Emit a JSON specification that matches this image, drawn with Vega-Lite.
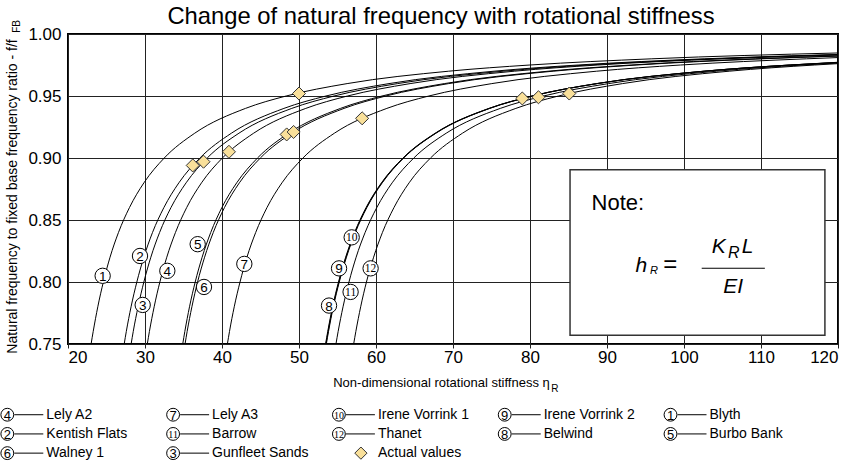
{
  "$schema": "https://vega.github.io/schema/vega-lite/v6.json",
  "width": 770,
  "height": 310,
  "autosize": "none",
  "padding": {"left": 68, "top": 34, "right": 16, "bottom": 119},
  "background": "white",
  "config": {
    "font": "Liberation Sans",
    "view": {"stroke": "black", "strokeWidth": 2},
    "text": {"font": "Liberation Sans", "color": "black"}
  },
  "title": {
    "text": "Change of natural frequency with rotational stiffness",
    "fontSize": 23.8,
    "fontWeight": "normal",
    "color": "black",
    "font": "Liberation Sans",
    "frame": "group",
    "anchor": "middle",
    "dx": -12,
    "dy": 15,
    "offset": 6
  },
  "datasets": {
    "curves": [
      {"site": "Blyth", "eta": 23.00, "ratio": 0.75}, {"site": "Blyth", "eta": 23.27, "ratio": 0.76}, {"site": "Blyth", "eta": 23.87, "ratio": 0.78}, {"site": "Blyth", "eta": 24.59, "ratio": 0.80}, {"site": "Blyth", "eta": 25.46, "ratio": 0.82}, {"site": "Blyth", "eta": 26.56, "ratio": 0.84}, {"site": "Blyth", "eta": 27.98, "ratio": 0.86}, {"site": "Blyth", "eta": 29.86, "ratio": 0.88}, {"site": "Blyth", "eta": 32.50, "ratio": 0.90}, {"site": "Blyth", "eta": 36.46, "ratio": 0.92}, {"site": "Blyth", "eta": 43.05, "ratio": 0.94}, {"site": "Blyth", "eta": 48.33, "ratio": 0.95}, {"site": "Blyth", "eta": 56.25, "ratio": 0.96}, {"site": "Blyth", "eta": 69.44, "ratio": 0.97}, {"site": "Blyth", "eta": 79.99, "ratio": 0.975}, {"site": "Blyth", "eta": 95.82, "ratio": 0.98}, {"site": "Blyth", "eta": 120, "ratio": 0.9847},
      {"site": "Kentish Flats", "eta": 27.30, "ratio": 0.75}, {"site": "Kentish Flats", "eta": 27.57, "ratio": 0.76}, {"site": "Kentish Flats", "eta": 28.19, "ratio": 0.78}, {"site": "Kentish Flats", "eta": 28.94, "ratio": 0.80}, {"site": "Kentish Flats", "eta": 29.85, "ratio": 0.82}, {"site": "Kentish Flats", "eta": 30.98, "ratio": 0.84}, {"site": "Kentish Flats", "eta": 32.45, "ratio": 0.86}, {"site": "Kentish Flats", "eta": 34.40, "ratio": 0.88}, {"site": "Kentish Flats", "eta": 37.13, "ratio": 0.90}, {"site": "Kentish Flats", "eta": 41.22, "ratio": 0.92}, {"site": "Kentish Flats", "eta": 48.04, "ratio": 0.94}, {"site": "Kentish Flats", "eta": 53.50, "ratio": 0.95}, {"site": "Kentish Flats", "eta": 61.69, "ratio": 0.96}, {"site": "Kentish Flats", "eta": 75.33, "ratio": 0.97}, {"site": "Kentish Flats", "eta": 86.25, "ratio": 0.975}, {"site": "Kentish Flats", "eta": 102.63, "ratio": 0.98}, {"site": "Kentish Flats", "eta": 120, "ratio": 0.9835},
      {"site": "Gunfleet Sands", "eta": 28.20, "ratio": 0.75}, {"site": "Gunfleet Sands", "eta": 28.47, "ratio": 0.76}, {"site": "Gunfleet Sands", "eta": 29.10, "ratio": 0.78}, {"site": "Gunfleet Sands", "eta": 29.85, "ratio": 0.80}, {"site": "Gunfleet Sands", "eta": 30.76, "ratio": 0.82}, {"site": "Gunfleet Sands", "eta": 31.90, "ratio": 0.84}, {"site": "Gunfleet Sands", "eta": 33.37, "ratio": 0.86}, {"site": "Gunfleet Sands", "eta": 35.34, "ratio": 0.88}, {"site": "Gunfleet Sands", "eta": 38.08, "ratio": 0.90}, {"site": "Gunfleet Sands", "eta": 42.20, "ratio": 0.92}, {"site": "Gunfleet Sands", "eta": 49.06, "ratio": 0.94}, {"site": "Gunfleet Sands", "eta": 54.55, "ratio": 0.95}, {"site": "Gunfleet Sands", "eta": 62.79, "ratio": 0.96}, {"site": "Gunfleet Sands", "eta": 76.51, "ratio": 0.97}, {"site": "Gunfleet Sands", "eta": 87.49, "ratio": 0.975}, {"site": "Gunfleet Sands", "eta": 103.96, "ratio": 0.98}, {"site": "Gunfleet Sands", "eta": 120, "ratio": 0.9833},
      {"site": "Lely A2", "eta": 30.30, "ratio": 0.75}, {"site": "Lely A2", "eta": 30.57, "ratio": 0.76}, {"site": "Lely A2", "eta": 31.19, "ratio": 0.78}, {"site": "Lely A2", "eta": 31.93, "ratio": 0.80}, {"site": "Lely A2", "eta": 32.83, "ratio": 0.82}, {"site": "Lely A2", "eta": 33.96, "ratio": 0.84}, {"site": "Lely A2", "eta": 35.41, "ratio": 0.86}, {"site": "Lely A2", "eta": 37.34, "ratio": 0.88}, {"site": "Lely A2", "eta": 40.05, "ratio": 0.90}, {"site": "Lely A2", "eta": 44.11, "ratio": 0.92}, {"site": "Lely A2", "eta": 50.88, "ratio": 0.94}, {"site": "Lely A2", "eta": 56.30, "ratio": 0.95}, {"site": "Lely A2", "eta": 64.43, "ratio": 0.96}, {"site": "Lely A2", "eta": 77.97, "ratio": 0.97}, {"site": "Lely A2", "eta": 88.80, "ratio": 0.975}, {"site": "Lely A2", "eta": 105.05, "ratio": 0.98}, {"site": "Lely A2", "eta": 120, "ratio": 0.9831},
      {"site": "Burbo Bank", "eta": 34.90, "ratio": 0.75}, {"site": "Burbo Bank", "eta": 35.17, "ratio": 0.76}, {"site": "Burbo Bank", "eta": 35.78, "ratio": 0.78}, {"site": "Burbo Bank", "eta": 36.52, "ratio": 0.80}, {"site": "Burbo Bank", "eta": 37.42, "ratio": 0.82}, {"site": "Burbo Bank", "eta": 38.54, "ratio": 0.84}, {"site": "Burbo Bank", "eta": 39.98, "ratio": 0.86}, {"site": "Burbo Bank", "eta": 41.91, "ratio": 0.88}, {"site": "Burbo Bank", "eta": 44.61, "ratio": 0.90}, {"site": "Burbo Bank", "eta": 48.65, "ratio": 0.92}, {"site": "Burbo Bank", "eta": 55.39, "ratio": 0.94}, {"site": "Burbo Bank", "eta": 60.78, "ratio": 0.95}, {"site": "Burbo Bank", "eta": 68.87, "ratio": 0.96}, {"site": "Burbo Bank", "eta": 82.35, "ratio": 0.97}, {"site": "Burbo Bank", "eta": 93.13, "ratio": 0.975}, {"site": "Burbo Bank", "eta": 109.31, "ratio": 0.98}, {"site": "Burbo Bank", "eta": 120, "ratio": 0.9823},
      {"site": "Walney 1", "eta": 35.20, "ratio": 0.75}, {"site": "Walney 1", "eta": 35.47, "ratio": 0.76}, {"site": "Walney 1", "eta": 36.09, "ratio": 0.78}, {"site": "Walney 1", "eta": 36.83, "ratio": 0.80}, {"site": "Walney 1", "eta": 37.74, "ratio": 0.82}, {"site": "Walney 1", "eta": 38.87, "ratio": 0.84}, {"site": "Walney 1", "eta": 40.32, "ratio": 0.86}, {"site": "Walney 1", "eta": 42.26, "ratio": 0.88}, {"site": "Walney 1", "eta": 44.98, "ratio": 0.90}, {"site": "Walney 1", "eta": 49.06, "ratio": 0.92}, {"site": "Walney 1", "eta": 55.85, "ratio": 0.94}, {"site": "Walney 1", "eta": 61.28, "ratio": 0.95}, {"site": "Walney 1", "eta": 69.43, "ratio": 0.96}, {"site": "Walney 1", "eta": 83.01, "ratio": 0.97}, {"site": "Walney 1", "eta": 93.88, "ratio": 0.975}, {"site": "Walney 1", "eta": 110.18, "ratio": 0.98}, {"site": "Walney 1", "eta": 120, "ratio": 0.9822},
      {"site": "Lely A3", "eta": 40.70, "ratio": 0.75}, {"site": "Lely A3", "eta": 40.97, "ratio": 0.76}, {"site": "Lely A3", "eta": 41.59, "ratio": 0.78}, {"site": "Lely A3", "eta": 42.34, "ratio": 0.80}, {"site": "Lely A3", "eta": 43.24, "ratio": 0.82}, {"site": "Lely A3", "eta": 44.38, "ratio": 0.84}, {"site": "Lely A3", "eta": 45.84, "ratio": 0.86}, {"site": "Lely A3", "eta": 47.79, "ratio": 0.88}, {"site": "Lely A3", "eta": 50.51, "ratio": 0.90}, {"site": "Lely A3", "eta": 54.60, "ratio": 0.92}, {"site": "Lely A3", "eta": 61.41, "ratio": 0.94}, {"site": "Lely A3", "eta": 66.86, "ratio": 0.95}, {"site": "Lely A3", "eta": 75.04, "ratio": 0.96}, {"site": "Lely A3", "eta": 88.66, "ratio": 0.97}, {"site": "Lely A3", "eta": 99.56, "ratio": 0.975}, {"site": "Lely A3", "eta": 115.91, "ratio": 0.98}, {"site": "Lely A3", "eta": 120, "ratio": 0.9810},
      {"site": "Belwind", "eta": 53.45, "ratio": 0.75}, {"site": "Belwind", "eta": 53.73, "ratio": 0.76}, {"site": "Belwind", "eta": 54.36, "ratio": 0.78}, {"site": "Belwind", "eta": 55.13, "ratio": 0.80}, {"site": "Belwind", "eta": 56.06, "ratio": 0.82}, {"site": "Belwind", "eta": 57.22, "ratio": 0.84}, {"site": "Belwind", "eta": 58.71, "ratio": 0.86}, {"site": "Belwind", "eta": 60.71, "ratio": 0.88}, {"site": "Belwind", "eta": 63.50, "ratio": 0.90}, {"site": "Belwind", "eta": 67.69, "ratio": 0.92}, {"site": "Belwind", "eta": 74.67, "ratio": 0.94}, {"site": "Belwind", "eta": 80.25, "ratio": 0.95}, {"site": "Belwind", "eta": 88.63, "ratio": 0.96}, {"site": "Belwind", "eta": 102.58, "ratio": 0.97}, {"site": "Belwind", "eta": 113.75, "ratio": 0.975}, {"site": "Belwind", "eta": 120, "ratio": 0.9772},
      {"site": "Irene Vorrink 2", "eta": 53.50, "ratio": 0.75}, {"site": "Irene Vorrink 2", "eta": 53.78, "ratio": 0.76}, {"site": "Irene Vorrink 2", "eta": 54.41, "ratio": 0.78}, {"site": "Irene Vorrink 2", "eta": 55.18, "ratio": 0.80}, {"site": "Irene Vorrink 2", "eta": 56.11, "ratio": 0.82}, {"site": "Irene Vorrink 2", "eta": 57.27, "ratio": 0.84}, {"site": "Irene Vorrink 2", "eta": 58.76, "ratio": 0.86}, {"site": "Irene Vorrink 2", "eta": 60.76, "ratio": 0.88}, {"site": "Irene Vorrink 2", "eta": 63.55, "ratio": 0.90}, {"site": "Irene Vorrink 2", "eta": 67.74, "ratio": 0.92}, {"site": "Irene Vorrink 2", "eta": 74.72, "ratio": 0.94}, {"site": "Irene Vorrink 2", "eta": 80.30, "ratio": 0.95}, {"site": "Irene Vorrink 2", "eta": 88.68, "ratio": 0.96}, {"site": "Irene Vorrink 2", "eta": 102.63, "ratio": 0.97}, {"site": "Irene Vorrink 2", "eta": 113.80, "ratio": 0.975}, {"site": "Irene Vorrink 2", "eta": 120, "ratio": 0.9771},
      {"site": "Irene Vorrink 1", "eta": 53.55, "ratio": 0.75}, {"site": "Irene Vorrink 1", "eta": 53.83, "ratio": 0.76}, {"site": "Irene Vorrink 1", "eta": 54.46, "ratio": 0.78}, {"site": "Irene Vorrink 1", "eta": 55.23, "ratio": 0.80}, {"site": "Irene Vorrink 1", "eta": 56.16, "ratio": 0.82}, {"site": "Irene Vorrink 1", "eta": 57.32, "ratio": 0.84}, {"site": "Irene Vorrink 1", "eta": 58.81, "ratio": 0.86}, {"site": "Irene Vorrink 1", "eta": 60.81, "ratio": 0.88}, {"site": "Irene Vorrink 1", "eta": 63.60, "ratio": 0.90}, {"site": "Irene Vorrink 1", "eta": 67.79, "ratio": 0.92}, {"site": "Irene Vorrink 1", "eta": 74.77, "ratio": 0.94}, {"site": "Irene Vorrink 1", "eta": 80.35, "ratio": 0.95}, {"site": "Irene Vorrink 1", "eta": 88.73, "ratio": 0.96}, {"site": "Irene Vorrink 1", "eta": 102.68, "ratio": 0.97}, {"site": "Irene Vorrink 1", "eta": 113.85, "ratio": 0.975}, {"site": "Irene Vorrink 1", "eta": 120, "ratio": 0.9770},
      {"site": "Barrow", "eta": 54.80, "ratio": 0.75}, {"site": "Barrow", "eta": 55.08, "ratio": 0.76}, {"site": "Barrow", "eta": 55.72, "ratio": 0.78}, {"site": "Barrow", "eta": 56.49, "ratio": 0.80}, {"site": "Barrow", "eta": 57.42, "ratio": 0.82}, {"site": "Barrow", "eta": 58.59, "ratio": 0.84}, {"site": "Barrow", "eta": 60.10, "ratio": 0.86}, {"site": "Barrow", "eta": 62.10, "ratio": 0.88}, {"site": "Barrow", "eta": 64.91, "ratio": 0.90}, {"site": "Barrow", "eta": 69.12, "ratio": 0.92}, {"site": "Barrow", "eta": 76.14, "ratio": 0.94}, {"site": "Barrow", "eta": 81.76, "ratio": 0.95}, {"site": "Barrow", "eta": 90.19, "ratio": 0.96}, {"site": "Barrow", "eta": 104.23, "ratio": 0.97}, {"site": "Barrow", "eta": 115.46, "ratio": 0.975}, {"site": "Barrow", "eta": 120, "ratio": 0.9766},
      {"site": "Thanet", "eta": 57.10, "ratio": 0.75}, {"site": "Thanet", "eta": 57.38, "ratio": 0.76}, {"site": "Thanet", "eta": 58.01, "ratio": 0.78}, {"site": "Thanet", "eta": 58.76, "ratio": 0.80}, {"site": "Thanet", "eta": 59.69, "ratio": 0.82}, {"site": "Thanet", "eta": 60.84, "ratio": 0.84}, {"site": "Thanet", "eta": 62.33, "ratio": 0.86}, {"site": "Thanet", "eta": 64.30, "ratio": 0.88}, {"site": "Thanet", "eta": 67.08, "ratio": 0.90}, {"site": "Thanet", "eta": 71.23, "ratio": 0.92}, {"site": "Thanet", "eta": 78.16, "ratio": 0.94}, {"site": "Thanet", "eta": 83.70, "ratio": 0.95}, {"site": "Thanet", "eta": 92.01, "ratio": 0.96}, {"site": "Thanet", "eta": 105.87, "ratio": 0.97}, {"site": "Thanet", "eta": 116.95, "ratio": 0.975}, {"site": "Thanet", "eta": 120, "ratio": 0.9761}
    ],
    "actual": [
      {"site": "Blyth", "eta": 50.0, "ratio": 0.952},
      {"site": "Kentish Flats", "eta": 36.2, "ratio": 0.894},
      {"site": "Gunfleet Sands", "eta": 37.6, "ratio": 0.897},
      {"site": "Lely A2", "eta": 40.9, "ratio": 0.905},
      {"site": "Burbo Bank", "eta": 48.4, "ratio": 0.919},
      {"site": "Walney 1", "eta": 49.3, "ratio": 0.921},
      {"site": "Lely A3", "eta": 58.2, "ratio": 0.932},
      {"site": "Belwind", "eta": 79.0, "ratio": 0.948},
      {"site": "Barrow", "eta": 81.1, "ratio": 0.949},
      {"site": "Thanet", "eta": 85.1, "ratio": 0.952}
    ],
    "tags": [
      {"num": 1, "eta": 24.5, "ratio": 0.805},
      {"num": 2, "eta": 29.35, "ratio": 0.821},
      {"num": 3, "eta": 29.7, "ratio": 0.7815},
      {"num": 4, "eta": 32.9, "ratio": 0.809},
      {"num": 5, "eta": 36.84, "ratio": 0.8305},
      {"num": 6, "eta": 37.66, "ratio": 0.796},
      {"num": 7, "eta": 42.9, "ratio": 0.8146},
      {"num": 8, "eta": 53.9, "ratio": 0.781},
      {"num": 9, "eta": 55.2, "ratio": 0.811},
      {"num": 10, "eta": 56.84, "ratio": 0.836},
      {"num": 11, "eta": 56.7, "ratio": 0.792},
      {"num": 12, "eta": 59.3, "ratio": 0.811}
    ],
    "key": [
      {"num": 4, "name": "Lely A2", "col": 0, "row": 0},
      {"num": 2, "name": "Kentish Flats", "col": 0, "row": 1},
      {"num": 6, "name": "Walney 1", "col": 0, "row": 2},
      {"num": 7, "name": "Lely A3", "col": 1, "row": 0},
      {"num": 11, "name": "Barrow", "col": 1, "row": 1},
      {"num": 3, "name": "Gunfleet Sands", "col": 1, "row": 2},
      {"num": 10, "name": "Irene Vorrink 1", "col": 2, "row": 0},
      {"num": 12, "name": "Thanet", "col": 2, "row": 1},
      {"num": null, "name": "Actual values", "col": 2, "row": 2},
      {"num": 9, "name": "Irene Vorrink 2", "col": 3, "row": 0},
      {"num": 8, "name": "Belwind", "col": 3, "row": 1},
      {"num": 1, "name": "Blyth", "col": 4, "row": 0},
      {"num": 5, "name": "Burbo Bank", "col": 4, "row": 1}
    ]
  },
  "layer": [
    {
      "layer": [
        {
          "data": {"name": "curves"},
          "mark": {"type": "line", "color": "black", "strokeWidth": 1, "interpolate": "monotone"},
          "encoding": {
            "x": {
              "field": "eta", "type": "quantitative",
              "scale": {"domain": [20, 120], "nice": false, "zero": false},
              "axis": {
                "title": "Non-dimensional rotational stiffness η",
                "values": [20, 30, 40, 50, 60, 70, 80, 90, 100, 110, 120],
                "grid": true, "gridColor": "#222", "gridWidth": 1, "gridOpacity": 1,
                "domain": false, "ticks": true, "tickColor": "#222", "tickSize": 4,
                "labelFontSize": 17, "labelColor": "black", "labelPadding": 1, "labelFont": "Liberation Sans",
                "titleFontSize": 13, "titleFontWeight": "normal", "titleColor": "black", "titlePadding": 11, "titleFont": "Liberation Sans",
                "titleX": 373
              }
            },
            "y": {
              "field": "ratio", "type": "quantitative",
              "scale": {"domain": [0.75, 1.0], "nice": false, "zero": false},
              "axis": {
                "title": "Natural frequency to fixed base frequency ratio - f/f",
                "values": [0.75, 0.8, 0.85, 0.9, 0.95, 1.0],
                "format": ".2f",
                "grid": true, "gridColor": "#222", "gridWidth": 1, "gridOpacity": 1,
                "domain": false, "ticks": false,
                "labelFontSize": 17, "labelColor": "black", "labelPadding": 7, "labelFont": "Liberation Sans",
                "titleFontSize": 14, "titleFontWeight": "normal", "titleColor": "black", "titlePadding": 8, "titleFont": "Liberation Sans",
                "titleY": 162
              }
            },
            "detail": {"field": "site"}
          }
        },
        {
          "data": {"values": [{}]},
          "mark": {"type": "rect", "fill": "white", "stroke": "#333", "strokeWidth": 1.5},
          "encoding": {
            "x": {"datum": 85.2}, "x2": {"datum": 118.3},
            "y": {"datum": 0.8905}, "y2": {"datum": 0.757}
          }
        },
        {
          "data": {"values": [{}]},
          "mark": {"type": "rule", "color": "black", "strokeWidth": 1.2},
          "encoding": {"x": {"datum": 102.3}, "x2": {"datum": 110.5}, "y": {"datum": 0.8111}}
        },
        {
          "data": {"values": [{}]},
          "mark": {"type": "text", "text": "Note:", "fontSize": 22, "align": "left", "baseline": "alphabetic"},
          "encoding": {"x": {"datum": 88.0}, "y": {"datum": 0.858}}
        },
        {
          "data": {"values": [{}]},
          "mark": {"type": "text", "text": "h", "fontSize": 21, "fontStyle": "italic", "align": "left", "baseline": "alphabetic"},
          "encoding": {"x": {"datum": 93.7}, "y": {"datum": 0.8084}}
        },
        {
          "data": {"values": [{}]},
          "mark": {"type": "text", "text": "R", "fontSize": 11, "fontStyle": "italic", "align": "left", "baseline": "alphabetic"},
          "encoding": {"x": {"datum": 95.6}, "y": {"datum": 0.8066}}
        },
        {
          "data": {"values": [{}]},
          "mark": {"type": "text", "text": "=", "fontSize": 24, "align": "left", "baseline": "alphabetic"},
          "encoding": {"x": {"datum": 97.3}, "y": {"datum": 0.8084}}
        },
        {
          "data": {"values": [{}]},
          "mark": {"type": "text", "text": "K", "fontSize": 21, "fontStyle": "italic", "align": "left", "baseline": "alphabetic"},
          "encoding": {"x": {"datum": 103.6}, "y": {"datum": 0.8233}}
        },
        {
          "data": {"values": [{}]},
          "mark": {"type": "text", "text": "R", "fontSize": 16, "fontStyle": "italic", "align": "left", "baseline": "alphabetic"},
          "encoding": {"x": {"datum": 105.7}, "y": {"datum": 0.8192}}
        },
        {
          "data": {"values": [{}]},
          "mark": {"type": "text", "text": "L", "fontSize": 21, "fontStyle": "italic", "align": "left", "baseline": "alphabetic"},
          "encoding": {"x": {"datum": 107.5}, "y": {"datum": 0.8233}}
        },
        {
          "data": {"values": [{}]},
          "mark": {"type": "text", "text": "EI", "fontSize": 21, "fontStyle": "italic", "align": "left", "baseline": "alphabetic"},
          "encoding": {"x": {"datum": 105.1}, "y": {"datum": 0.791}}
        },
        {
          "data": {"values": [{}]},
          "mark": {"type": "text", "text": "R", "fontSize": 10, "align": "left", "baseline": "alphabetic"},
          "encoding": {"x": {"datum": 82.75}, "y": {"datum": 0.7115}}
        },
        {
          "data": {"values": [{}]},
          "mark": {"type": "text", "text": "FB", "fontSize": 10, "angle": 270, "align": "left", "baseline": "alphabetic"},
          "encoding": {"x": {"datum": 13.8}, "y": {"datum": 1.001}}
        },
        {
          "data": {"name": "actual"},
          "mark": {"type": "point", "shape": "diamond", "filled": true, "size": 170, "fill": "#f9e09a", "stroke": "#333", "strokeWidth": 1, "opacity": 1},
          "encoding": {"x": {"field": "eta", "type": "quantitative"}, "y": {"field": "ratio", "type": "quantitative"}}
        },
        {
          "data": {"name": "tags"},
          "mark": {"type": "point", "shape": "circle", "filled": true, "size": 235, "fill": "white", "stroke": "black", "strokeWidth": 1, "opacity": 1},
          "encoding": {"x": {"field": "eta", "type": "quantitative"}, "y": {"field": "ratio", "type": "quantitative"}}
        },
        {
          "data": {"name": "tags"},
          "transform": [{"filter": "datum.num < 10"}],
          "mark": {"type": "text", "baseline": "middle", "align": "center", "dy": 1, "fontSize": 13.5},
          "encoding": {
            "x": {"field": "eta", "type": "quantitative"},
            "y": {"field": "ratio", "type": "quantitative"},
            "text": {"field": "num", "type": "nominal"}
          }
        },
        {
          "data": {"name": "tags"},
          "transform": [{"filter": "datum.num >= 10"}],
          "mark": {"type": "text", "baseline": "middle", "align": "center", "dy": 1, "fontSize": 11.5, "font": "Liberation Sans Narrow"},
          "encoding": {
            "x": {"field": "eta", "type": "quantitative"},
            "y": {"field": "ratio", "type": "quantitative"},
            "text": {"field": "num", "type": "nominal"}
          }
        }
      ]
    },
    {
      "data": {"name": "key"},
      "layer": [
        {
          "transform": [{"filter": "datum.num != null"}],
          "mark": {"type": "point", "shape": "circle", "filled": true, "size": 165, "fill": "white", "stroke": "black", "strokeWidth": 1, "opacity": 1},
          "encoding": {
            "x": {"field": "col", "type": "quantitative", "scale": {"domain": [0.3661, 5.0102], "nice": false, "zero": false}, "axis": null},
            "y": {"field": "row", "type": "quantitative", "scale": {"domain": [-19.83, -3.684], "nice": false, "zero": false, "reverse": true}, "axis": null}
          }
        },
        {
          "transform": [{"filter": "datum.num != null"}],
          "mark": {"type": "rule", "color": "black", "strokeWidth": 1, "xOffset": 7, "x2Offset": 36},
          "encoding": {
            "x": {"field": "col", "type": "quantitative"},
            "x2": {"field": "col"},
            "y": {"field": "row", "type": "quantitative"}
          }
        },
        {
          "transform": [{"filter": "datum.num != null && datum.num < 10"}],
          "mark": {"type": "text", "baseline": "middle", "align": "center", "dy": 1, "fontSize": 13},
          "encoding": {
            "x": {"field": "col", "type": "quantitative"},
            "y": {"field": "row", "type": "quantitative"},
            "text": {"field": "num", "type": "nominal"}
          }
        },
        {
          "transform": [{"filter": "datum.num != null && datum.num >= 10"}],
          "mark": {"type": "text", "baseline": "middle", "align": "center", "dy": 1, "fontSize": 10, "font": "Liberation Sans Narrow"},
          "encoding": {
            "x": {"field": "col", "type": "quantitative"},
            "y": {"field": "row", "type": "quantitative"},
            "text": {"field": "num", "type": "nominal"}
          }
        },
        {
          "transform": [{"filter": "datum.num == null"}],
          "mark": {"type": "point", "shape": "diamond", "filled": true, "size": 150, "fill": "#f9e09a", "stroke": "#333", "strokeWidth": 1, "opacity": 1, "xOffset": 22},
          "encoding": {
            "x": {"field": "col", "type": "quantitative"},
            "y": {"field": "row", "type": "quantitative"}
          }
        },
        {
          "mark": {"type": "text", "baseline": "middle", "align": "left", "dx": 39, "fontSize": 14},
          "encoding": {
            "x": {"field": "col", "type": "quantitative"},
            "y": {"field": "row", "type": "quantitative"},
            "text": {"field": "name", "type": "nominal"}
          }
        }
      ]
    }
  ],
  "resolve": {"scale": {"x": "independent", "y": "independent"}}
}
